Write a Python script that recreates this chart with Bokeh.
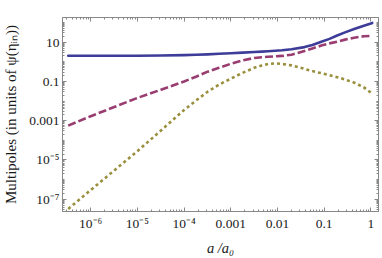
from bokeh.plotting import figure
from bokeh.models import Range1d, FixedTicker, LogAxis, CustomJSTickFormatter
from bokeh.embed import file_html
from bokeh.resources import INLINE
import math

# ---- data ----
a = [3.3e-7, 1e-6, 3.2e-6, 1e-5, 3.2e-5, 1e-4, 1.8e-4, 3.2e-4, 5.6e-4, 1e-3,
     1.8e-3, 3.2e-3, 4.6e-3, 6.3e-3, 8.9e-3, 1.26e-2, 2e-2, 3.8e-2, 5.6e-2,
     8.7e-2, 0.13, 0.19, 0.28, 0.44, 0.71, 1.0, 1.07]
monopole = [2.04, 2.04, 2.04, 2.04, 2.09, 2.19, 2.29, 2.4, 2.57, 2.75,
            2.95, 3.16, 3.31, 3.47, 3.67, 3.89, 4.37, 5.62, 7.24,
            10.5, 14.8, 21.9, 31.6, 46.8, 69.2, 89.1, 95.5]
dipole = [5.6e-4, 1.7e-3, 5.0e-3, 1.45e-2, 3.8e-2, 0.1, 0.174, 0.316, 0.5, 0.794,
          1.17, 1.58, 1.7, 1.82, 1.9, 2.0, 2.29, 3.55, 4.79,
          6.76, 8.71, 10.7, 13.5, 17.0, 20.0, 20.9, 21.4]
quadrupole = [3.2e-8, 2.95e-7, 2.95e-6, 2.8e-5, 3.2e-4, 3.5e-3, 1.07e-2, 3.0e-2, 6.9e-2, 0.138,
              0.275, 0.5, 0.646, 0.776, 0.832, 0.776, 0.661, 0.437, 0.339,
              0.263, 0.209, 0.166, 0.126, 0.087, 0.05, 0.027, 0.024]

x_ticks = [1e-6, 1e-5, 1e-4, 1e-3, 1e-2, 1e-1, 1]
x_tick_labels = ["10⁻⁶", "10⁻⁵", "10⁻⁴", "0.001", "0.01", "0.1", "1"]
y_ticks = [1e-7, 1e-5, 1e-3, 1e-1, 10]
y_tick_labels = ["10⁻⁷", "10⁻⁵", "0.001", "0.1", "10"]

x_label = "a /a₀"
y_label = "Multipoles (in units of ψ(ηᵢₙ))"

colors = ["#3d3d99", "#993d71", "#998f3d"]

def minors(lo, hi, majors):
    out = []
    for e in range(lo, hi + 1):
        for m in range(1, 10):
            v = m * 10.0 ** e
            if not any(abs(v - t) / t < 1e-9 for t in majors):
                out.append(v)
    return out

x_minor = minors(-7, 0, x_ticks)
y_minor = minors(-8, 2, y_ticks)

def label_formatter(ticks, labels):
    mapping = {str(round(math.log10(t))): l for t, l in zip(ticks, labels)}
    return CustomJSTickFormatter(args=dict(m=mapping), code="""
        const k = String(Math.round(Math.log10(tick)));
        return (k in m) ? m[k] : '';
    """)

blank = CustomJSTickFormatter(code="return '';")

p = figure(width=382, height=258, x_axis_type="log", y_axis_type="log",
           x_range=Range1d(2.49e-7, 1.459), y_range=Range1d(2.38e-8, 181),
           output_backend="svg", toolbar_location=None,
           min_border_left=59, min_border_right=4, min_border_top=17, min_border_bottom=44)

p.grid.visible = False
p.outline_line_color = "#888888"
p.background_fill_color = "white"
p.border_fill_color = "white"

xt = FixedTicker(ticks=x_ticks, minor_ticks=x_minor)
yt = FixedTicker(ticks=y_ticks, minor_ticks=y_minor)

font = "Liberation Serif, serif"

def style(ax, ticker, formatter):
    ax.ticker = ticker
    ax.formatter = formatter
    ax.axis_line_color = "#888888"
    ax.major_tick_line_color = "#888888"
    ax.minor_tick_line_color = "#888888"
    ax.major_tick_in = 4
    ax.major_tick_out = 0
    ax.minor_tick_in = 2
    ax.minor_tick_out = 0
    ax.major_label_text_font = font
    ax.major_label_text_font_size = "13.5px"
    ax.major_label_text_color = "#1a1a1a"

xa = p.xaxis[0]
style(xa, xt, label_formatter(x_ticks, x_tick_labels))
xa.major_label_standoff = 4
xa.axis_label = x_label
xa.axis_label_text_font = font
xa.axis_label_text_font_size = "14.5px"
xa.axis_label_text_font_style = "italic"
xa.axis_label_text_color = "#1a1a1a"
xa.axis_label_standoff = 6

ya = p.yaxis[0]
style(ya, yt, label_formatter(y_ticks, y_tick_labels))
ya.major_label_standoff = 3
ya.axis_label = y_label
ya.axis_label_text_font = font
ya.axis_label_text_font_size = "15px"
ya.axis_label_text_font_style = "normal"
ya.axis_label_text_color = "#1a1a1a"
ya.axis_label_standoff = 7

top = LogAxis()
style(top, xt, blank)
top.major_label_standoff = 0
top.major_label_text_font_size = "0px"
p.add_layout(top, "above")

right = LogAxis()
style(right, yt, blank)
right.major_label_standoff = 0
right.major_label_text_font_size = "0px"
p.add_layout(right, "right")

p.line(a, monopole, line_color=colors[0], line_width=2.6, line_cap="round", line_join="round")
p.line(a, dipole, line_color=colors[1], line_width=2.6, line_dash="8 3", line_join="round")
p.line(a, quadrupole, line_color=colors[2], line_width=2.6, line_dash="3 3", line_join="round")

open("out.html", "w").write(file_html(p, INLINE))
